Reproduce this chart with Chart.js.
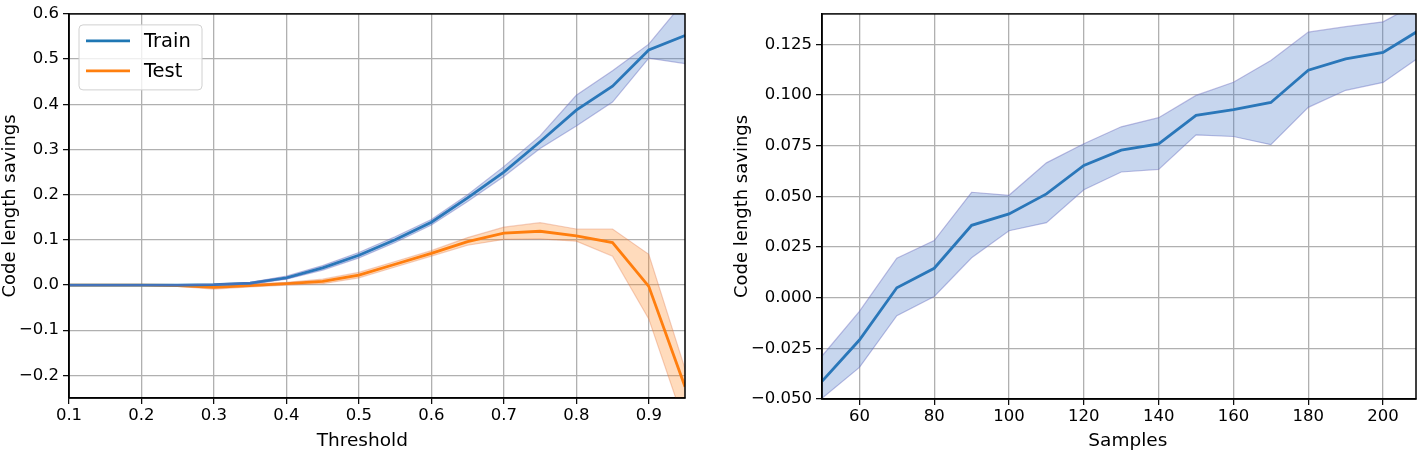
<!DOCTYPE html>
<html>
<head>
<meta charset="utf-8">
<script src="https://cdn.jsdelivr.net/npm/chart.js@4.4.0/dist/chart.umd.min.js"></script>
<style>
  html, body { margin: 0; padding: 0; background: #fff; }
  #wrap { position: relative; width: 1418px; height: 455px; }
  canvas { position: absolute; top: 0; }
</style>
</head>
<body>
<div id="wrap">
  <canvas id="left" width="700" height="455" style="left:0px"></canvas>
  <canvas id="right" width="718" height="455" style="left:700px"></canvas>
</div>
<script>
// ---------- Left panel data ----------
const thresholds = [0.1, 0.15, 0.2, 0.25, 0.3, 0.35, 0.4, 0.45, 0.5, 0.55, 0.6, 0.65, 0.7, 0.75, 0.8, 0.85, 0.9, 0.95];
const trainMean = [0, 0, 0, 0, 0.001, 0.004, 0.016, 0.038, 0.066, 0.100, 0.139, 0.193, 0.250, 0.317, 0.387, 0.440, 0.520, 0.552];
const trainHigh = [0, 0, 0, 0, 0.002, 0.006, 0.020, 0.043, 0.072, 0.107, 0.145, 0.200, 0.262, 0.330, 0.420, 0.474, 0.533, 0.630];
const trainLow  = [0, 0, 0, 0, 0.000, 0.002, 0.013, 0.033, 0.060, 0.094, 0.133, 0.185, 0.240, 0.302, 0.352, 0.405, 0.502, 0.490];
const testMean  = [0, 0, 0, -0.001, -0.005, -0.001, 0.003, 0.008, 0.022, 0.046, 0.070, 0.096, 0.115, 0.119, 0.109, 0.094, -0.003, -0.225];
const testHigh  = [0, 0, 0, 0.001, -0.001, 0.002, 0.006, 0.013, 0.028, 0.052, 0.076, 0.105, 0.128, 0.138, 0.124, 0.124, 0.068, -0.185];
const testLow   = [0, 0, 0, -0.003, -0.009, -0.004, 0.000, 0.003, 0.016, 0.040, 0.064, 0.088, 0.101, 0.102, 0.097, 0.064, -0.075, -0.310];
const leftXTicks = [0.1, 0.2, 0.3, 0.4, 0.5, 0.6, 0.7, 0.8, 0.9];
const leftYTicks = [-0.2, -0.1, 0.0, 0.1, 0.2, 0.3, 0.4, 0.5, 0.6];

// ---------- Right panel data ----------
const samples = [50, 60, 70, 80, 90, 100, 110, 120, 130, 140, 150, 160, 170, 180, 190, 200, 210];
const sampMean = [-0.0413, -0.0209, 0.0049, 0.0145, 0.0357, 0.0413, 0.0512, 0.0652, 0.0728, 0.0759, 0.0899, 0.0928, 0.0963, 0.1122, 0.1178, 0.1210, 0.1323];
const sampHigh = [-0.0288, -0.0068, 0.0195, 0.0282, 0.0520, 0.0505, 0.0665, 0.0759, 0.0843, 0.0888, 0.0998, 0.1063, 0.1170, 0.1310, 0.1337, 0.1361, 0.1460];
const sampLow  = [-0.0496, -0.0344, -0.0089, 0.0006, 0.0197, 0.0330, 0.0370, 0.0532, 0.0620, 0.0633, 0.0803, 0.0795, 0.0755, 0.0939, 0.1023, 0.1062, 0.1190];
const rightXTicks = [60, 80, 100, 120, 140, 160, 180, 200];
const rightYTicks = [-0.05, -0.025, 0, 0.025, 0.05, 0.075, 0.1, 0.125];

// ---------- Styles ----------
const FONT = "'DejaVu Sans', sans-serif";
const BLUE = '#1f77b4', ORANGE = '#ff7f0e';
const BLUE_FILL = 'rgba(70,120,200,0.30)', BLUE_EDGE = 'rgba(110,110,190,0.45)';
const ORANGE_FILL = 'rgba(255,127,14,0.28)', ORANGE_EDGE = 'rgba(220,120,80,0.35)';
const GRID = '#b0b0b0';

const pts = (xs, ys) => xs.map((x, i) => ({x: x, y: ys[i]}));
const minusFmt = (s) => s.replace('-', '\u2212');

function band(xs, hi, lo, fill, edge) {
  return [
    {data: pts(xs, hi), borderColor: edge, borderWidth: 1.2, backgroundColor: fill, fill: '+1', pointRadius: 0, clip: 0, tension: 0},
    {data: pts(xs, lo), borderColor: edge, borderWidth: 1.2, backgroundColor: fill, fill: false, pointRadius: 0, clip: 0, tension: 0}
  ];
}
function lineDs(label, xs, ys, color) {
  return {label: label, data: pts(xs, ys), borderColor: color, backgroundColor: color, borderWidth: 2.8, fill: false, pointRadius: 0, clip: 0, tension: 0};
}

const framePlugin = {
  id: 'frame',
  afterDatasetsDraw(chart) {
    const a = chart.chartArea, ctx = chart.ctx;
    ctx.save();
    ctx.strokeStyle = '#000';
    ctx.lineWidth = 1.5;
    ctx.strokeRect(a.left, a.top, a.right - a.left, a.bottom - a.top);
    ctx.restore();
  }
};

const legendPlugin = {
  id: 'mplLegend',
  afterDraw(chart, args, opts) {
    if (!opts || !opts.show) return;
    const a = chart.chartArea, ctx = chart.ctx;
    const items = chart.data.datasets.filter(d => d.label);
    const x0 = a.left + 10, y0 = a.top + 11, w = 123, h = 65, r = 4;
    ctx.save();
    ctx.beginPath();
    ctx.roundRect(x0, y0, w, h, r);
    ctx.fillStyle = 'rgba(255,255,255,0.8)';
    ctx.fill();
    ctx.strokeStyle = '#d0d0d0';
    ctx.lineWidth = 1;
    ctx.stroke();
    ctx.font = '19.5px ' + FONT;
    ctx.textBaseline = 'middle';
    ctx.fillStyle = '#000';
    items.forEach((d, i) => {
      const y = y0 + 16 + i * 30;
      ctx.beginPath();
      ctx.moveTo(x0 + 7, y);
      ctx.lineTo(x0 + 51, y);
      ctx.strokeStyle = d.borderColor;
      ctx.lineWidth = 2.8;
      ctx.stroke();
      ctx.fillText(d.label, x0 + 65, y + 1);
    });
    ctx.restore();
  }
};

function makeScales(cfg) {
  return {
    x: {
      type: 'linear', min: cfg.xmin, max: cfg.xmax,
      afterBuildTicks: s => { s.ticks = cfg.xticks.map(v => ({value: v})); },
      afterFit: s => { s.height = cfg.xh; },
      ticks: {color: '#000', font: {family: FONT, size: 16.5}, padding: 2, maxRotation: 0, autoSkip: false,
              callback: cfg.xfmt},
      grid: {color: GRID, lineWidth: 1.3, tickColor: '#000', tickLength: 6, tickWidth: 1.2, drawTicks: true},
      border: {color: '#000', width: 1.5},
      title: {display: true, text: cfg.xtitle, color: '#000', font: {family: FONT, size: 18.5}, padding: {top: 0, bottom: 3}}
    },
    y: {
      type: 'linear', min: cfg.ymin, max: cfg.ymax,
      afterBuildTicks: s => { s.ticks = cfg.yticks.map(v => ({value: v})); },
      afterFit: s => { s.width = cfg.yw; },
      ticks: {color: '#000', font: {family: FONT, size: 16.5}, padding: 4, autoSkip: false,
              callback: cfg.yfmt},
      grid: {color: GRID, lineWidth: 1.3, tickColor: '#000', tickLength: 6, tickWidth: 1.2, drawTicks: true},
      border: {color: '#000', width: 1.5},
      title: {display: true, text: 'Code length savings', color: '#000', font: {family: FONT, size: 18}, padding: {top: 0, bottom: 0}}
    }
  };
}

Chart.defaults.font.family = FONT;

new Chart(document.getElementById('left'), {
  type: 'line',
  data: {
    datasets: [
      ...band(thresholds, trainHigh, trainLow, BLUE_FILL, BLUE_EDGE),
      lineDs('Train', thresholds, trainMean, BLUE),
      ...band(thresholds, testHigh, testLow, ORANGE_FILL, ORANGE_EDGE),
      lineDs('Test', thresholds, testMean, ORANGE)
    ]
  },
  options: {
    responsive: false, animation: false, devicePixelRatio: 1,
    layout: {padding: {left: 0, top: 7, right: 15, bottom: 0}},
    plugins: {legend: {display: false}, tooltip: {enabled: false}, mplLegend: {show: true}},
    scales: makeScales({
      xmin: 0.1, xmax: 0.95, ymin: -0.25, ymax: 0.6,
      xticks: leftXTicks, yticks: leftYTicks, xh: 57, yw: 69,
      xtitle: 'Threshold\u00a0\u00a0\u00a0\u00a0\u00a0',
      xfmt: v => v.toFixed(1),
      yfmt: v => minusFmt((Math.abs(v) < 1e-9 ? 0 : v).toFixed(1))
    })
  },
  plugins: [framePlugin, legendPlugin]
});

new Chart(document.getElementById('right'), {
  type: 'line',
  data: {
    datasets: [
      ...band(samples, sampHigh, sampLow, BLUE_FILL, BLUE_EDGE),
      lineDs('', samples, sampMean, BLUE)
    ]
  },
  options: {
    responsive: false, animation: false, devicePixelRatio: 1,
    layout: {padding: {left: 32, top: 1, right: 2, bottom: 0}},
    plugins: {legend: {display: false}, tooltip: {enabled: false}, mplLegend: {show: false}},
    scales: makeScales({
      xmin: 50, xmax: 208.8, ymin: -0.05, ymax: 0.14,
      xticks: rightXTicks, yticks: rightYTicks, xh: 56, yw: 90,
      xtitle: '\u00a0\u00a0\u00a0Samples',
      xfmt: v => String(Math.round(v)),
      yfmt: v => minusFmt((Math.abs(v) < 1e-9 ? 0 : v).toFixed(3))
    })
  },
  plugins: [framePlugin, legendPlugin]
});
</script>
</body>
</html>
